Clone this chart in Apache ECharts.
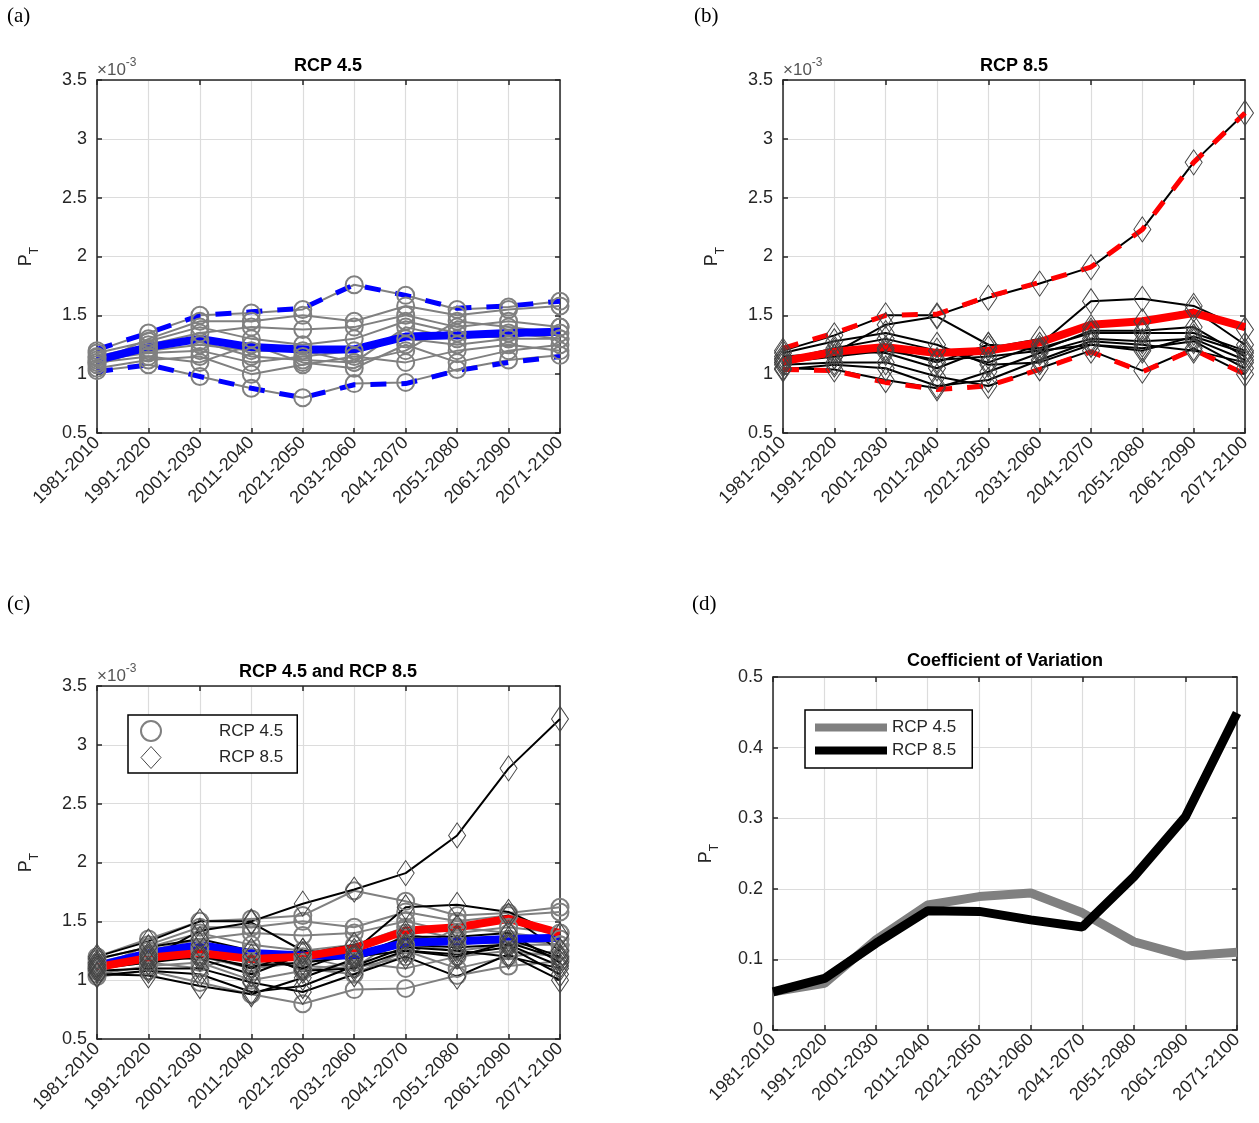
<!DOCTYPE html>
<html><head><meta charset="utf-8">
<script src="https://cdn.jsdelivr.net/npm/echarts@6/dist/echarts.min.js"></script>
<style>html,body{margin:0;padding:0;background:#fff}#c{width:1259px;height:1123px}</style>
</head><body><div id="c"></div>
<script>
// ---------- data ----------
const categories = ['1981-2010','1991-2020','2001-2030','2011-2040','2021-2050','2031-2060','2041-2070','2051-2080','2061-2090','2071-2100'];

// RCP 4.5 ensemble members (x10^-3)
const rcp45_m1  = [1.20,1.35,1.50,1.52,1.55,1.76,1.67,1.55,1.57,1.62];
const rcp45_m2  = [1.03,1.08,0.98,0.88,0.80,0.92,0.93,1.04,1.12,1.16];
const rcp45_m3  = [1.10,1.30,1.45,1.45,1.50,1.45,1.58,1.50,1.55,1.58];
const rcp45_m4  = [1.15,1.25,1.35,1.40,1.38,1.40,1.50,1.40,1.45,1.40];
const rcp45_m5  = [1.08,1.22,1.28,1.15,1.12,1.10,1.20,1.45,1.40,1.35];
const rcp45_m6  = [1.12,1.18,1.20,1.10,1.15,1.20,1.30,1.25,1.30,1.30];
const rcp45_m7  = [1.05,1.12,1.15,1.00,1.08,1.15,1.10,1.20,1.25,1.20];
const rcp45_m8  = [1.18,1.28,1.40,1.30,1.25,1.30,1.45,1.35,1.30,1.40];
const rcp45_m9  = [1.10,1.15,1.10,1.25,1.10,1.05,1.25,1.10,1.20,1.25];
const rcp45_m10 = [1.14,1.20,1.25,1.20,1.20,1.10,1.40,1.30,1.35,1.30];
const rcp45Mean = [1.12,1.23,1.30,1.23,1.21,1.21,1.32,1.33,1.35,1.36];
const rcp45Max  = [1.21,1.35,1.50,1.53,1.56,1.76,1.67,1.56,1.58,1.62];
const rcp45Min  = [1.02,1.08,0.98,0.88,0.80,0.91,0.92,1.03,1.10,1.15];

// RCP 8.5 ensemble members (x10^-3)
const rcp85_m1  = [1.20,1.33,1.50,1.50,1.65,1.77,1.91,2.23,2.80,3.22];
const rcp85_m2  = [1.12,1.22,1.30,1.20,1.10,1.25,1.62,1.64,1.58,1.38];
const rcp85_m3  = [1.05,1.04,0.95,0.88,1.02,1.18,1.30,1.28,1.30,1.12];
const rcp85_m4  = [1.08,1.10,1.10,0.98,0.90,1.05,1.20,1.03,1.22,1.00];
const rcp85_m5  = [1.15,1.18,1.42,1.49,1.25,1.22,1.35,1.35,1.35,1.20];
const rcp85_m6  = [1.10,1.15,1.20,1.12,1.15,1.20,1.37,1.37,1.40,1.15];
const rcp85_m7  = [1.18,1.28,1.35,1.25,1.08,1.10,1.25,1.22,1.28,1.05];
const rcp85_m8  = [1.04,1.08,1.05,0.90,0.95,1.12,1.28,1.25,1.20,1.10];
const rcp85_m9  = [1.10,1.20,1.18,1.05,1.22,1.30,1.40,1.45,1.55,1.25];
const rcp85_m10 = [1.13,1.15,1.22,1.10,1.25,1.20,1.25,1.20,1.32,1.18];
const rcp85Mean = [1.11,1.19,1.23,1.18,1.20,1.27,1.42,1.45,1.52,1.40];
const rcp85Max  = [1.22,1.35,1.50,1.51,1.66,1.78,1.91,2.23,2.80,3.22];
const rcp85Min  = [1.04,1.03,0.93,0.87,0.90,1.04,1.19,1.02,1.21,1.00];

// Coefficient of variation
const cv45 = [0.054,0.066,0.128,0.177,0.189,0.194,0.166,0.125,0.105,0.110];
const cv85 = [0.054,0.073,0.123,0.169,0.168,0.156,0.146,0.217,0.302,0.449];

const rcp45Models = [rcp45_m1,rcp45_m2,rcp45_m3,rcp45_m4,rcp45_m5,rcp45_m6,rcp45_m7,rcp45_m8,rcp45_m9,rcp45_m10];
const rcp85Models = [rcp85_m1,rcp85_m2,rcp85_m3,rcp85_m4,rcp85_m5,rcp85_m6,rcp85_m7,rcp85_m8,rcp85_m9,rcp85_m10];

// ---------- styling ----------
const FONT = 'Liberation Sans, Arial, sans-serif';
const AX = '#262626';
const GRIDC = '#dcdcdc';
const GRAY = '#808080';

const grids = [
  {left:97,  top:80,  width:463, height:353},
  {left:783, top:80,  width:462, height:353},
  {left:97,  top:686, width:463, height:353},
  {left:773, top:677, width:464, height:353}
];

const xAxes = [], yAxes = [];
for (let g = 0; g < 4; g++) {
  xAxes.push({
    type:'category', gridIndex:g, data:categories, boundaryGap:false, position:'bottom',
    axisLine:{show:true, onZero:false, lineStyle:{color:AX, width:1.5}},
    axisTick:{show:true, inside:true, length:5, alignWithLabel:true, lineStyle:{color:AX, width:1.5}},
    axisLabel:{rotate:45, fontSize:18, color:AX, fontFamily:FONT, margin:7, interval:0},
    splitLine:{show:true, lineStyle:{color:GRIDC, width:1.2}}
  });
}
for (let g = 0; g < 4; g++) {
  xAxes.push({
    type:'category', gridIndex:g, data:categories, boundaryGap:false, position:'top',
    axisLine:{show:true, onZero:false, lineStyle:{color:AX, width:1.5}},
    axisTick:{show:true, inside:true, length:5, lineStyle:{color:AX, width:1.5}},
    axisLabel:{show:false}, splitLine:{show:false}
  });
}
const ptName = '{p|P}{t|T}';
const ptRich = {p:{fontSize:18, fontFamily:FONT, color:AX, verticalAlign:'top', padding:[0,0,6,0]},
                t:{fontSize:12, fontFamily:FONT, color:AX, verticalAlign:'bottom'}};
for (let g = 0; g < 4; g++) {
  const isCV = g === 3;
  yAxes.push({
    type:'value', gridIndex:g, position:'left',
    min: isCV ? 0 : 0.5, max: isCV ? 0.5 : 3.5, interval: isCV ? 0.1 : 0.5,
    name: ptName, nameLocation:'middle', nameGap: isCV ? 52 : 56, nameRotate:90,
    nameTextStyle:{rich:ptRich},
    axisLine:{show:true, onZero:false, lineStyle:{color:AX, width:1.5}},
    axisTick:{show:true, inside:true, length:5, lineStyle:{color:AX, width:1.5}},
    axisLabel:{fontSize:18, color:AX, fontFamily:FONT, margin:10},
    splitLine:{show:true, lineStyle:{color:GRIDC, width:1.2}}
  });
}
for (let g = 0; g < 4; g++) {
  const isCV = g === 3;
  yAxes.push({
    type:'value', gridIndex:g, position:'right',
    min: isCV ? 0 : 0.5, max: isCV ? 0.5 : 3.5, interval: isCV ? 0.1 : 0.5,
    axisLine:{show:true, onZero:false, lineStyle:{color:AX, width:1.5}},
    axisTick:{show:true, inside:true, length:5, lineStyle:{color:AX, width:1.5}},
    axisLabel:{show:false}, splitLine:{show:false}
  });
}

const series = [];
function grayModel(d, g) {
  series.push({type:'line', name:'RCP 4.5', xAxisIndex:g, yAxisIndex:g, data:d,
    symbol:'circle', symbolSize:17,
    itemStyle:{color:'rgba(0,0,0,0)', borderColor:GRAY, borderWidth:2},
    lineStyle:{color:GRAY, width:2}, emphasis:{disabled:true}, silent:true});
}
function blackModel(d, g) {
  series.push({type:'line', name:'RCP 8.5', xAxisIndex:g, yAxisIndex:g, data:d,
    symbol:'diamond', symbolSize:[17,25],
    itemStyle:{color:'rgba(0,0,0,0)', borderColor:'#444', borderWidth:1},
    lineStyle:{color:'#000', width:2}, emphasis:{disabled:true}, silent:true});
}
function bold(d, g, color, width, dashed, name) {
  series.push({type:'line', name:name, xAxisIndex:g, yAxisIndex:g, data:d, symbol:'none',
    lineStyle:{color:color, width:width, type: dashed ? [16,15] : 'solid', cap:'butt'},
    emphasis:{disabled:true}, silent:true});
}
// (a)
rcp45Models.forEach(d => grayModel(d, 0));
bold(rcp45Max, 0, '#0000ff', 5, true, 'max45');
bold(rcp45Min, 0, '#0000ff', 5, true, 'min45');
bold(rcp45Mean, 0, '#0000ff', 8, false, 'mean45');
// (b)
rcp85Models.forEach(d => blackModel(d, 1));
bold(rcp85Max, 1, '#ff0000', 5, true, 'max85');
bold(rcp85Min, 1, '#ff0000', 5, true, 'min85');
bold(rcp85Mean, 1, '#ff0000', 8, false, 'mean85');
// (c)
rcp45Models.forEach(d => grayModel(d, 2));
rcp85Models.forEach(d => blackModel(d, 2));
bold(rcp45Mean, 2, '#0000ff', 8, false, 'mean45c');
bold(rcp85Mean, 2, '#ff0000', 8, false, 'mean85c');
// (d)
bold(cv45, 3, GRAY, 9, false, 'RCP 4.5');
bold(cv85, 3, '#000000', 9, false, 'RCP 8.5');

const legendText = {fontSize:17, color:AX, fontFamily:FONT};
const legends = [
  {orient:'vertical', left:128, top:715, padding:[5,14,4,12], itemGap:4,
   itemWidth:20, itemHeight:22, backgroundColor:'#fff', borderColor:'#000', borderWidth:1.5,
   textStyle:Object.assign({padding:[0,0,0,53]}, legendText), selectedMode:false,
   data:[{name:'RCP 4.5', icon:'circle', itemStyle:{color:'rgba(0,0,0,0)', borderColor:GRAY, borderWidth:2}},
         {name:'RCP 8.5', icon:'diamond', itemStyle:{color:'rgba(0,0,0,0)', borderColor:'#444', borderWidth:1}}]},
  {orient:'vertical', left:805, top:710, padding:[9,16,9,10], itemGap:6,
   itemWidth:72, itemHeight:8, backgroundColor:'#fff', borderColor:'#000', borderWidth:1.5,
   textStyle:legendText, selectedMode:false,
   data:[{name:'RCP 4.5', icon:'rect', itemStyle:{color:GRAY, borderWidth:0}},
         {name:'RCP 8.5', icon:'rect', itemStyle:{color:'#000', borderWidth:0}}]}
];

function txt(x, y, text, font, align) {
  return {type:'text', x:x, y:y, silent:true,
    style:{text:text, font:font, fill:'#000', textAlign:align||'left', textVerticalAlign:'top'}};
}
function exp(x, y) {
  return {type:'text', x:x, y:y, silent:true,
    style:{text:'{b|×10}{s|-3}', fill:'#555',
      rich:{b:{fontSize:17, fontFamily:FONT, fill:'#555', verticalAlign:'bottom', padding:[5,0,0,0]},
            s:{fontSize:12, fontFamily:FONT, fill:'#555', verticalAlign:'top'}}}};
}
const SERIF = '21px "Liberation Serif", "Times New Roman", serif';
const TITLE = 'bold 18px ' + FONT;
const graphics = [
  txt(7, 6, '(a)', SERIF), txt(694, 6, '(b)', SERIF),
  txt(7, 594, '(c)', SERIF), txt(692, 594, '(d)', SERIF),
  txt(328, 57, 'RCP 4.5', TITLE, 'center'),
  txt(1014, 57, 'RCP 8.5', TITLE, 'center'),
  txt(328, 663, 'RCP 4.5 and RCP 8.5', TITLE, 'center'),
  txt(1005, 652, 'Coefficient of Variation', TITLE, 'center'),
  exp(97, 57), exp(783, 57), exp(97, 663)
];

const chart = echarts.init(document.getElementById('c'), null, {renderer:'canvas'});
chart.setOption({
  animation:false,
  backgroundColor:'#fff',
  grid:grids, xAxis:xAxes, yAxis:yAxes, series:series,
  legend:legends, graphic:graphics
});
</script></body></html>
